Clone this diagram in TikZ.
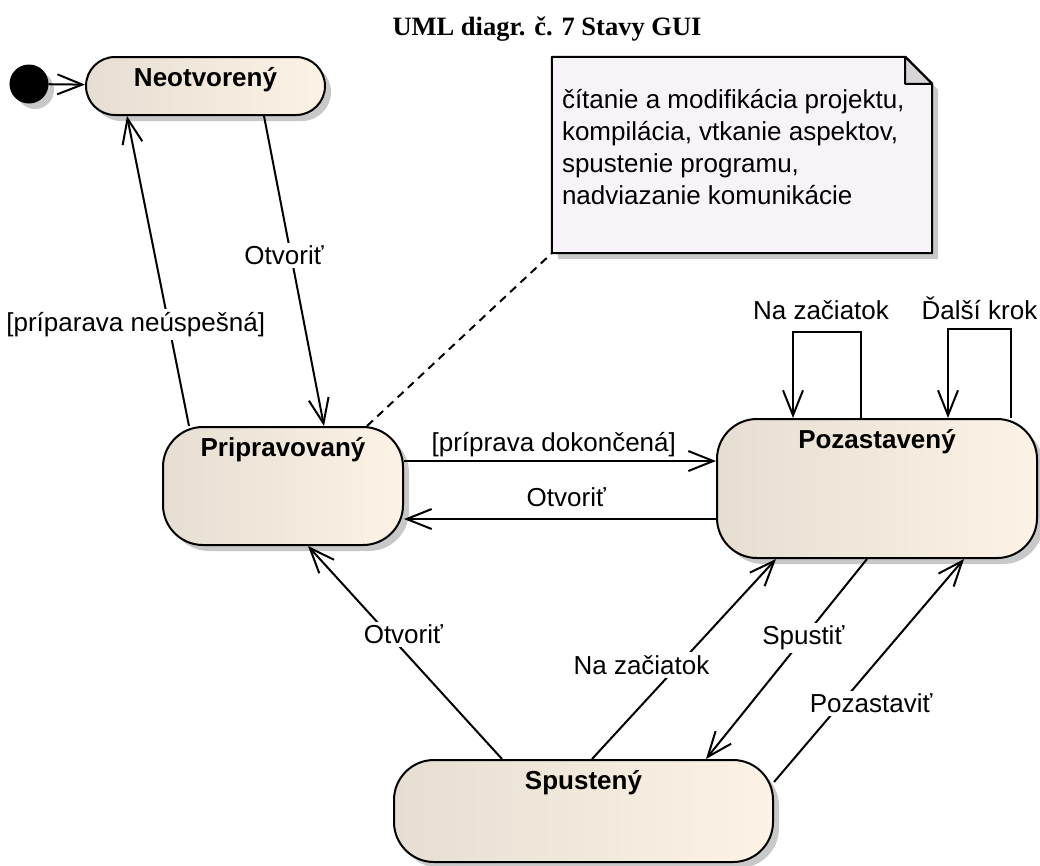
\documentclass[tikz,border=0pt]{standalone}
\usepackage{fontspec}
\setmainfont{Liberation Sans}
\newfontfamily\titlefont{Liberation Serif}
\usetikzlibrary{arrows.meta,shadows,calc}

\definecolor{stateL}{RGB}{230,222,210}
\definecolor{stateR}{RGB}{252,243,230}
\definecolor{noteFill}{RGB}{248,243,248}
\definecolor{foldFill}{RGB}{216,212,216}
\definecolor{shade}{RGB}{200,200,200}

\tikzset{
  shadowed/.style={drop shadow={shadow xshift=6pt, shadow yshift=-6pt, fill=shade, opacity=1}},
  state/.style={draw, line width=2pt, rounded corners=40pt, left color=stateL,
    right color=stateR, inner sep=0pt, shadowed},
  statename/.style={anchor=base, yshift=-30pt, font=\bfseries\fontsize{26}{31}\selectfont},
  tr/.style={line width=2pt, -{Straight Barb[length=25pt, width=20pt, line width=2pt]}},
  lab/.style={fill=white, inner sep=3pt, font=\fontsize{26}{31}\selectfont},
  anchorline/.style={line width=2pt, dash pattern=on 8pt off 6pt},
}

\begin{document}
\begin{tikzpicture}[x=1pt, y=-1pt, font=\fontsize{26}{31}\selectfont]
\useasboundingbox (0,0) rectangle (1040,865);

% title
\node[anchor=base, font=\titlefont\bfseries\fontsize{26.5}{31}\selectfont] (title) at (547,35) {UML diagr. č. 7 Stavy GUI};

% states
\node[circle, fill=black, draw, line width=1pt, minimum size=38pt, inner sep=0pt, shadowed] (init) at (29,84) {};
\node[state, rounded corners=29pt, minimum width=239pt, minimum height=58pt,
      label={[statename]north:Neotvorený}] (neo) at (205.5,86) {};
\node[state, minimum width=240pt, minimum height=118pt,
      label={[statename]north:Pripravovaný}] (prep) at (283,486) {};
\node[state, minimum width=320pt, minimum height=139pt,
      label={[statename]north:Pozastavený}] (poz) at (877,488.5) {};
\node[state, minimum width=379pt, minimum height=102pt,
      label={[statename]north:Spustený}] (spu) at (583.5,811) {};

% note with folded corner
\node[minimum width=380pt, minimum height=196pt, inner sep=0pt] (note) at (742,155) {};
\filldraw[fill=noteFill, line width=2pt, line join=round, shadowed]
  (note.south west) -- (note.north west) -- ([xshift=-27pt]note.north east)
  -- ([yshift=-27pt]note.north east) -- (note.south east) -- cycle;
\filldraw[fill=foldFill, line width=2pt, line join=round]
  ([xshift=-27pt]note.north east) -- ([xshift=-27pt, yshift=-27pt]note.north east)
  -- ([yshift=-27pt]note.north east) -- cycle;
\node[anchor=north west, align=left, inner sep=0pt, font=\fontsize{26}{32.3}\selectfont]
  (notetext) at ([xshift=10pt, yshift=-28.4pt]note.north west)
  {\strut čítanie a modifikácia projektu,\\kompilácia, vtkanie aspektov,\\spustenie programu,\\nadviazanie komunikácie};

% note anchor
\draw[anchorline] ([xshift=205pt]prep.north west) -- (note.south west);

% transitions
\draw[tr] (init) -- (neo);
\draw[tr] ([xshift=27pt]prep.north west) -- node[lab, pos=0.327, xshift=-33pt] {[príparava neúspešná]} ([xshift=42pt]neo.south west);
\draw[tr] ([xshift=179pt]neo.south west) -- node[lab, pos=0.45, xshift=-7pt] {Otvoriť} ([xshift=162pt]prep.north west);
\draw[tr] ([yshift=25pt]prep.east) -- node[lab, above, pos=0.48, inner sep=3pt] {[príprava dokončená]} ([yshift=27.5pt]poz.west);
\draw[tr] ([yshift=-30.5pt]poz.west) -- node[lab, above=8pt, pos=0.48] {Otvoriť} ([yshift=-33pt]prep.east);
\draw[tr] ([xshift=145pt]poz.north west) -- ++(0,-86) -| node[lab, above=8pt, pos=0.25, xshift=-6pt] {Na začiatok} ([xshift=77pt]poz.north west);
\draw[tr] ([xshift=295pt]poz.north west) -- ++(0,-89) -| node[lab, above=5pt, pos=0.25] {Ďalší krok} ([xshift=232pt]poz.north west);
\draw[tr] ([xshift=109pt]spu.north west) -- node[lab, pos=0.586, xshift=15pt] {Otvoriť} ([xshift=146pt]prep.south west);
\draw[tr] ([xshift=199pt]spu.north west) -- node[lab, pos=0.47, xshift=-37pt] {Na začiatok} ([xshift=60pt]poz.south west);
\draw[tr] ([xshift=151pt]poz.south west) -- node[lab, pos=0.396] {Spustiť} ([xshift=313pt]spu.north west);
\draw[tr] ([yshift=29pt]spu.east) -- node[lab, pos=0.353, xshift=30pt] {Pozastaviť} ([xshift=248pt]poz.south west);
\end{tikzpicture}
\end{document}
